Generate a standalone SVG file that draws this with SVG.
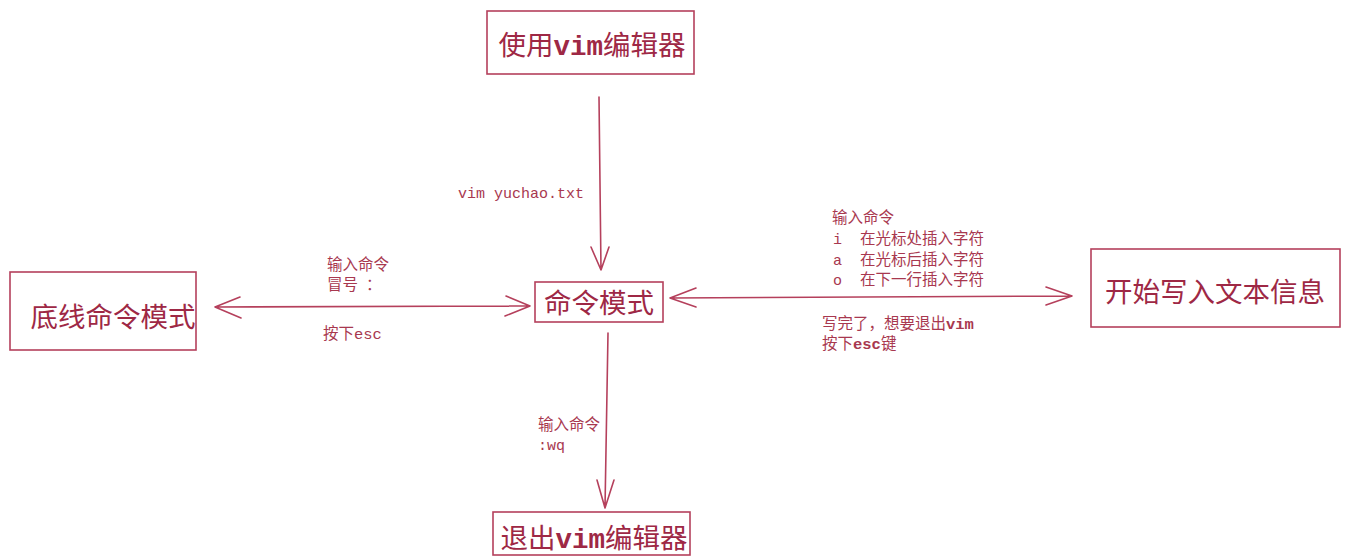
<svg xmlns="http://www.w3.org/2000/svg" width="1351" height="560" viewBox="0 0 1351 560">
<style>
.box{fill:none;stroke:#b5405c;stroke-width:1.6}
.ln{fill:none;stroke:#b5405c;stroke-width:1.6;stroke-linecap:round;stroke-linejoin:round}
.big{font-family:"Noto Sans CJK SC","Liberation Sans",sans-serif;font-size:27.5px;fill:#9e2845}
.mono{font-family:"Liberation Mono","DejaVu Sans Mono",monospace;font-weight:bold}
.lbl{font-family:"Noto Sans CJK SC","Liberation Sans",sans-serif;font-size:15.5px;fill:#a8384f}
.m{font-family:"Liberation Mono","DejaVu Sans Mono",monospace;font-size:15px;fill:#a8384f}
</style>
<rect width="1351" height="560" fill="#ffffff"/>
<g id="connectors">
<path class="ln" d="M599 97 L601 270 M591 247 L601 270 L609 247"/>
<path class="ln" d="M215 307 L530 306 M240 297 L215 307 L241 318 M506 296 L530 306 L505 316"/>
<path class="ln" d="M670 298 L1072 296 M696 288 L670 298 L696 307 M1046 287 L1072 296 L1046 305"/>
<path class="ln" d="M608 333 L605 508 M597 480 L605 508 M614 480 L605 508"/>
</g>
<g id="node-use-vim">
<rect class="box" x="487" y="11" width="207" height="63"/>
<text class="big" x="592" y="55" text-anchor="middle">使用<tspan class="mono">vim</tspan>编辑器</text>
</g>
<g id="node-command">
<rect class="box" x="535" y="282" width="128" height="40"/>
<text class="big" x="599" y="313" text-anchor="middle">命令模式</text>
</g>
<g id="node-lastline">
<rect class="box" x="10" y="272" width="186" height="78"/>
<text class="big" x="113" y="327" text-anchor="middle">底线命令模式</text>
</g>
<g id="node-insert">
<rect class="box" x="1091" y="249" width="249" height="78"/>
<text class="big" x="1215" y="302" text-anchor="middle">开始写入文本信息</text>
</g>
<g id="node-exit">
<rect class="box" x="493" y="512" width="197" height="43"/>
<text class="big" x="594" y="548" text-anchor="middle">退出<tspan class="mono">vim</tspan>编辑器</text>
</g>
<g id="labels">
<text class="m" x="458" y="198">vim yuchao.txt</text>
<text class="lbl" x="327" y="270">输入命令</text>
<text class="lbl" x="327" y="290">冒号</text><text class="lbl" x="366" y="290">：</text>
<text class="lbl" x="323" y="339">按下<tspan style="font-family:'Liberation Mono',monospace;font-weight:normal">esc</tspan></text>
<text class="lbl" x="832" y="223">输入命令</text>
<text class="m" x="833" y="244">i</text><text class="lbl" x="860" y="244">在光标处插入字符</text>
<text class="m" x="833" y="265">a</text><text class="lbl" x="860" y="265">在光标后插入字符</text>
<text class="m" x="833" y="285">o</text><text class="lbl" x="860" y="285">在下一行插入字符</text>
<text class="lbl" x="822" y="329">写完了，想要退出<tspan class="mono">vim</tspan></text>
<text class="lbl" x="822" y="349">按下<tspan class="mono">esc</tspan>键</text>
<text class="lbl" x="538" y="430">输入命令</text>
<text class="m" x="538" y="450">:wq</text>
</g>
</svg>
